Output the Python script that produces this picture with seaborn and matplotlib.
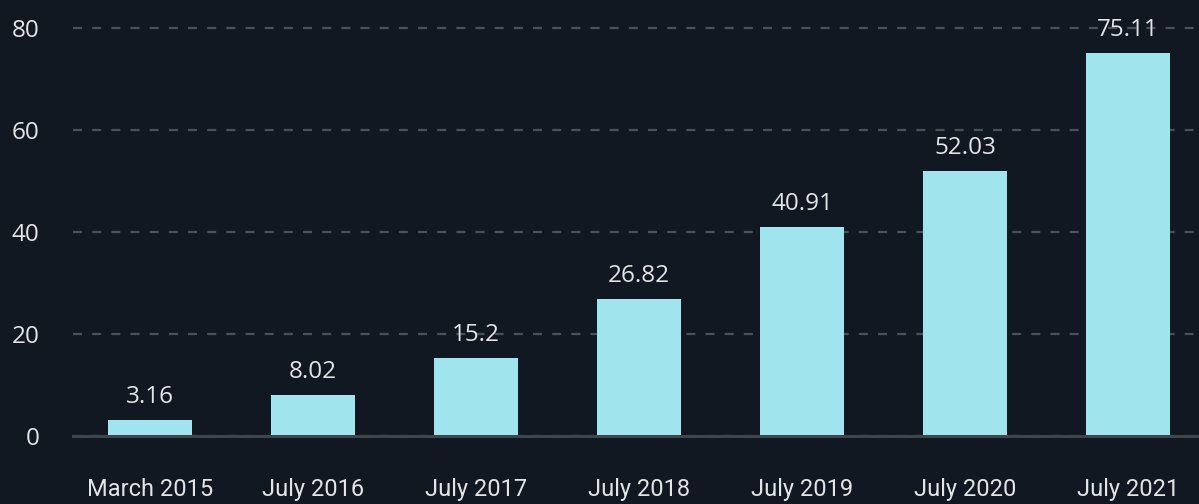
import matplotlib
matplotlib.use("Agg")
import matplotlib.pyplot as plt
import seaborn as sns
import pandas as pd

periods = ["March 2015", "July 2016", "July 2017", "July 2018",
           "July 2019", "July 2020", "July 2021"]
values = [3.16, 8.02, 15.2, 26.82, 40.91, 52.03, 75.11]
y_ticks = [0, 20, 40, 60, 80]

BG = "#111821"
BAR = "#a0e5ee"
TXT = "#e2e4e6"

sns.set_theme(style="dark")
plt.rcParams["font.family"] = ["Roboto", "DejaVu Sans"]
plt.rcParams["lines.scale_dashes"] = False

df = pd.DataFrame({"period": periods, "value": values})

fig = plt.figure(figsize=(11.99, 5.04), dpi=100, facecolor=BG)
ax = fig.add_axes([73 / 1199, 1 - 436 / 504, 1 - 73 / 1199, 436 / 504])
ax.set_facecolor(BG)

sns.barplot(data=df, x="period", y="value", color=BAR, saturation=1,
            width=0.515, linewidth=0, edgecolor="none", ax=ax, zorder=3)

for c in ax.containers:
    ax.bar_label(c, labels=[f"{v:g}" for v in values], padding=8,
                 color=TXT, fontsize=17.5, fontfamily=["Open Sans", "DejaVu Sans"])

ax.set_xlim(-0.4725, 6.436)
ax.set_ylim(0, 85.5)
ax.set_yticks(y_ticks)
ax.set_xlabel("")
ax.set_ylabel("")

ax.yaxis.grid(True, color="#4b5159", linewidth=1.6, linestyle=(0, (6.5, 7.3)), zorder=0)
ax.xaxis.grid(False)
for s in ["top", "right", "left"]:
    ax.spines[s].set_visible(False)
ax.spines["bottom"].set_color("#3f454d")
ax.spines["bottom"].set_linewidth(2.2)
ax.spines["bottom"].set_zorder(4)

ax.tick_params(axis="x", length=0, pad=30, labelsize=17, colors=TXT)
ax.tick_params(axis="y", length=0, pad=24, labelsize=17.5, colors=TXT)
for lbl in ax.get_yticklabels():
    lbl.set_fontfamily(["Open Sans", "DejaVu Sans"])

fig.savefig("out.png", dpi=100, facecolor=BG)
